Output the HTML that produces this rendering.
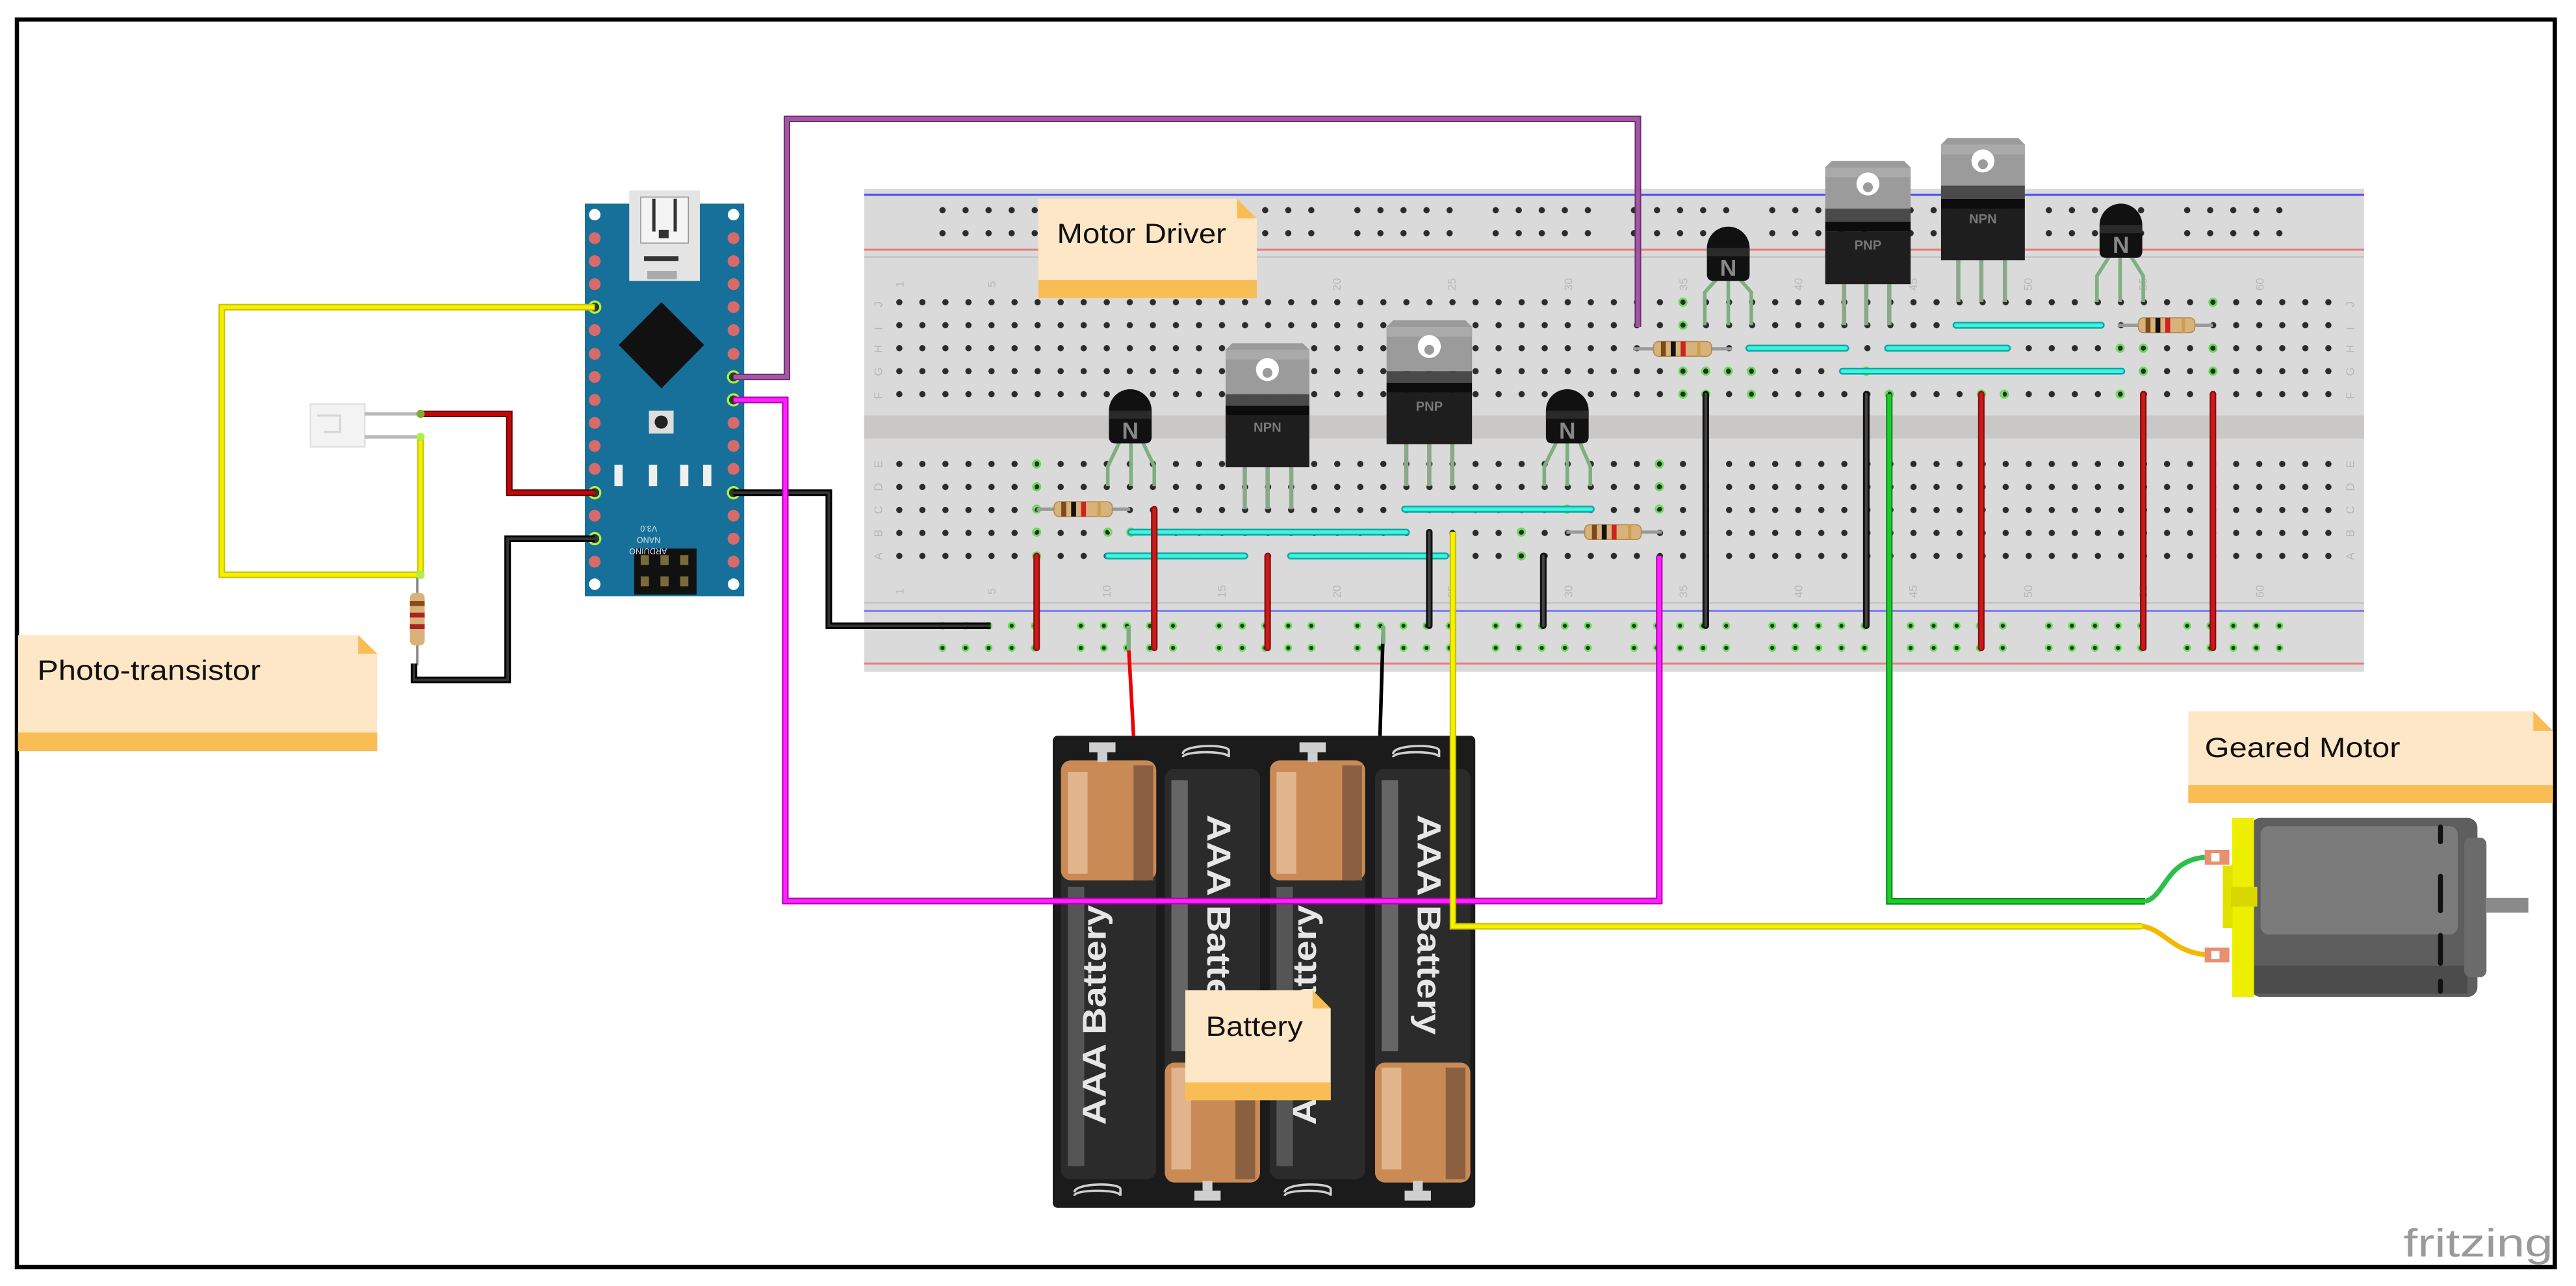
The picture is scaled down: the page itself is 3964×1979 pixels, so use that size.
<!DOCTYPE html>
<html><head><meta charset="utf-8"><style>
html,body{margin:0;padding:0;background:#fff;overflow:hidden}
svg{display:block}
text{font-family:"Liberation Sans",sans-serif}
</style></head><body>
<svg width="3964" height="1979" viewBox="0 0 1568 783" preserveAspectRatio="none" xmlns="http://www.w3.org/2000/svg">
<defs>
<pattern id="h" x="540.4" y="177" width="14.03" height="14" patternUnits="userSpaceOnUse"><circle cx="7.015" cy="7" r="1.9" fill="#2b2b2b"/></pattern>
<pattern id="h2" x="540.4" y="275.5" width="14.03" height="14" patternUnits="userSpaceOnUse"><circle cx="7.015" cy="7" r="1.9" fill="#2b2b2b"/></pattern>
<pattern id="r1" x="566.7" y="121" width="84.18" height="14" patternUnits="userSpaceOnUse">
<circle cx="7" cy="7" r="1.9" fill="#2b2b2b"/><circle cx="21.03" cy="7" r="1.9" fill="#2b2b2b"/><circle cx="35.06" cy="7" r="1.9" fill="#2b2b2b"/><circle cx="49.09" cy="7" r="1.9" fill="#2b2b2b"/><circle cx="63.12" cy="7" r="1.9" fill="#2b2b2b"/></pattern>
<pattern id="r2" x="566.7" y="374" width="84.18" height="13.5" patternUnits="userSpaceOnUse">
<g fill="#1f3a1f" stroke="#66dd55" stroke-width="1.1"><circle cx="7" cy="7" r="1.8"/><circle cx="21.03" cy="7" r="1.8"/><circle cx="35.06" cy="7" r="1.8"/><circle cx="49.09" cy="7" r="1.8"/><circle cx="63.12" cy="7" r="1.8"/></g></pattern>
</defs>

<!-- border -->
<rect x="10.3" y="11.9" width="1544.8" height="759.6" fill="none" stroke="#000" stroke-width="2.6"/>

<!-- breadboard -->
<rect x="526" y="115" width="913" height="294" fill="#dadada"/>
<rect x="526" y="253" width="913" height="14" fill="#cac8c6"/>
<line x1="526" y1="118.6" x2="1439" y2="118.6" stroke="#4a4af0" stroke-width="1.2"/>
<line x1="526" y1="152" x2="1439" y2="152" stroke="#ea8080" stroke-width="1.2"/>
<line x1="526" y1="156.5" x2="1439" y2="156.5" stroke="#c4c4c4" stroke-width="1"/>
<line x1="526" y1="367" x2="1439" y2="367" stroke="#c4c4c4" stroke-width="1"/>
<line x1="526" y1="372" x2="1439" y2="372" stroke="#7a7af0" stroke-width="1.2"/>
<line x1="526" y1="404" x2="1439" y2="404" stroke="#ea8080" stroke-width="1.2"/>
<rect x="566.7" y="121" width="836" height="28" fill="url(#r1)"/>
<rect x="566.7" y="374" width="836" height="27" fill="url(#r2)"/>
<rect x="540.4" y="177" width="883.9" height="70" fill="url(#h)"/>
<rect x="540.4" y="275.5" width="883.9" height="70" fill="url(#h2)"/>
<g font-size="7" fill="#b8b8b8">
<text transform="translate(550,175) rotate(-90)">1</text><text transform="translate(606,175) rotate(-90)">5</text><text transform="translate(676,177) rotate(-90)">10</text><text transform="translate(746,177) rotate(-90)">15</text><text transform="translate(816,177) rotate(-90)">20</text><text transform="translate(886,177) rotate(-90)">25</text><text transform="translate(957,177) rotate(-90)">30</text><text transform="translate(1027,177) rotate(-90)">35</text><text transform="translate(1097,177) rotate(-90)">40</text><text transform="translate(1167,177) rotate(-90)">45</text><text transform="translate(1237,177) rotate(-90)">50</text><text transform="translate(1307,177) rotate(-90)">55</text><text transform="translate(1378,177) rotate(-90)">60</text>
<text transform="translate(550,362) rotate(-90)">1</text><text transform="translate(606,362) rotate(-90)">5</text><text transform="translate(676,364) rotate(-90)">10</text><text transform="translate(746,364) rotate(-90)">15</text><text transform="translate(816,364) rotate(-90)">20</text><text transform="translate(886,364) rotate(-90)">25</text><text transform="translate(957,364) rotate(-90)">30</text><text transform="translate(1027,364) rotate(-90)">35</text><text transform="translate(1097,364) rotate(-90)">40</text><text transform="translate(1167,364) rotate(-90)">45</text><text transform="translate(1237,364) rotate(-90)">50</text><text transform="translate(1307,364) rotate(-90)">55</text><text transform="translate(1378,364) rotate(-90)">60</text>
<text transform="translate(537,187) rotate(-90)">J</text><text transform="translate(537,201) rotate(-90)">I</text><text transform="translate(537,215) rotate(-90)">H</text><text transform="translate(537,229) rotate(-90)">G</text><text transform="translate(537,243) rotate(-90)">F</text>
<text transform="translate(537,285) rotate(-90)">E</text><text transform="translate(537,299) rotate(-90)">D</text><text transform="translate(537,313) rotate(-90)">C</text><text transform="translate(537,327) rotate(-90)">B</text><text transform="translate(537,341) rotate(-90)">A</text>
<text transform="translate(1433,187) rotate(-90)">J</text><text transform="translate(1433,201) rotate(-90)">I</text><text transform="translate(1433,215) rotate(-90)">H</text><text transform="translate(1433,229) rotate(-90)">G</text><text transform="translate(1433,243) rotate(-90)">F</text>
<text transform="translate(1433,285) rotate(-90)">E</text><text transform="translate(1433,299) rotate(-90)">D</text><text transform="translate(1433,313) rotate(-90)">C</text><text transform="translate(1433,327) rotate(-90)">B</text><text transform="translate(1433,341) rotate(-90)">A</text>
</g>
<!-- green highlighted holes (connected columns) -->
<g fill="none" stroke="#66dd55" stroke-width="1.2">
<circle cx="631" cy="282.5" r="2.2"/><circle cx="631" cy="296.4" r="2.2"/><circle cx="631" cy="310" r="2.2"/><circle cx="631" cy="324" r="2.2"/><circle cx="631" cy="338.5" r="2.2"/>
<circle cx="674.3" cy="324" r="2.2"/><circle cx="688.4" cy="324" r="2.2"/><circle cx="702.6" cy="324" r="2.2"/>
<circle cx="1024.4" cy="184" r="2.2"/><circle cx="1024.4" cy="198" r="2.2"/><circle cx="1024.4" cy="226" r="2.2"/><circle cx="1024.4" cy="240" r="2.2"/>
<circle cx="1038.3" cy="226" r="2.2"/><circle cx="1038.3" cy="240" r="2.2"/><circle cx="1052" cy="226" r="2.2"/><circle cx="1066" cy="226" r="2.2"/><circle cx="1066" cy="240" r="2.2"/>
<circle cx="1136" cy="226" r="2.2"/><circle cx="1150" cy="240" r="2.2"/><circle cx="1206" cy="240" r="2.2"/><circle cx="1220" cy="240" r="2.2"/>
<circle cx="1290.5" cy="212" r="2.2"/><circle cx="1290.5" cy="240" r="2.2"/><circle cx="1304.6" cy="212" r="2.2"/><circle cx="1304.6" cy="226" r="2.2"/><circle cx="1347" cy="184" r="2.2"/><circle cx="1347" cy="212" r="2.2"/><circle cx="1347" cy="226" r="2.2"/>
<circle cx="1010" cy="282.5" r="2.2"/><circle cx="1010" cy="296.4" r="2.2"/><circle cx="1010" cy="310" r="2.2"/><circle cx="954" cy="310" r="2.2"/><circle cx="926" cy="324" r="2.2"/><circle cx="926" cy="338.5" r="2.2"/>
</g>

<!-- cyan jumpers -->
<g stroke-linecap="round">
<g stroke="#0aa6b0" stroke-width="4.2">
<line x1="688.4" y1="324" x2="856" y2="324"/><line x1="674.3" y1="338.5" x2="757.7" y2="338.5"/><line x1="785.6" y1="338.5" x2="880" y2="338.5"/><line x1="855" y1="310" x2="968.6" y2="310"/>
<line x1="1190.6" y1="198" x2="1279" y2="198"/><line x1="1064.5" y1="212" x2="1123.5" y2="212"/><line x1="1149" y1="212" x2="1221.9" y2="212"/><line x1="1121.5" y1="226" x2="1291.5" y2="226"/>
</g>
<g stroke="#3ff5d5" stroke-width="2.2">
<line x1="688.4" y1="324" x2="856" y2="324"/><line x1="674.3" y1="338.5" x2="757.7" y2="338.5"/><line x1="785.6" y1="338.5" x2="880" y2="338.5"/><line x1="855" y1="310" x2="968.6" y2="310"/>
<line x1="1190.6" y1="198" x2="1279" y2="198"/><line x1="1064.5" y1="212" x2="1123.5" y2="212"/><line x1="1149" y1="212" x2="1221.9" y2="212"/><line x1="1121.5" y1="226" x2="1291.5" y2="226"/>
</g>
<!-- vertical jumpers red -->
<g stroke="#8a0c0c" stroke-width="4"><line x1="631" y1="338.5" x2="631" y2="394.5"/><line x1="702.6" y1="310" x2="702.6" y2="394.5"/><line x1="771.6" y1="338.5" x2="771.6" y2="394.5"/><line x1="1206" y1="240" x2="1206" y2="394.5"/><line x1="1304.6" y1="240" x2="1304.6" y2="394.5"/><line x1="1347" y1="240" x2="1347" y2="394.5"/></g>
<g stroke="#cc1a1a" stroke-width="2.2"><line x1="631" y1="338.5" x2="631" y2="394.5"/><line x1="702.6" y1="310" x2="702.6" y2="394.5"/><line x1="771.6" y1="338.5" x2="771.6" y2="394.5"/><line x1="1206" y1="240" x2="1206" y2="394.5"/><line x1="1304.6" y1="240" x2="1304.6" y2="394.5"/><line x1="1347" y1="240" x2="1347" y2="394.5"/></g>
<!-- vertical jumpers black -->
<g stroke="#111" stroke-width="4"><line x1="870" y1="324" x2="870" y2="381"/><line x1="939.4" y1="338.5" x2="939.4" y2="381"/><line x1="1038.3" y1="240" x2="1038.3" y2="381"/><line x1="1136" y1="240" x2="1136" y2="381"/></g>
<g stroke="#444" stroke-width="1.6"><line x1="870" y1="324" x2="870" y2="381"/><line x1="939.4" y1="338.5" x2="939.4" y2="381"/><line x1="1038.3" y1="240" x2="1038.3" y2="381"/><line x1="1136" y1="240" x2="1136" y2="381"/></g>
</g>

<!-- resistors -->
<g>
<line x1="631" y1="310" x2="688" y2="310" stroke="#9a9a9a" stroke-width="2"/>
<rect x="641.6" y="305.5" width="35.4" height="9" rx="3" fill="#d9b27a" stroke="#b08850" stroke-width="0.6"/>
<rect x="646" y="305.5" width="3" height="9" fill="#7a4a1a"/><rect x="652" y="305.5" width="3" height="9" fill="#111"/><rect x="658" y="305.5" width="3" height="9" fill="#cc2222"/><rect x="668" y="305.5" width="2" height="9" fill="#c9a050"/>

<line x1="953.5" y1="324" x2="1011.5" y2="324" stroke="#9a9a9a" stroke-width="2"/>
<rect x="964.6" y="319.5" width="34.4" height="9" rx="3" fill="#d9b27a" stroke="#b08850" stroke-width="0.6"/>
<rect x="969" y="319.5" width="3" height="9" fill="#7a4a1a"/><rect x="975" y="319.5" width="3" height="9" fill="#111"/><rect x="981" y="319.5" width="3" height="9" fill="#cc2222"/><rect x="991" y="319.5" width="2" height="9" fill="#c9a050"/>

<line x1="994" y1="212.4" x2="1054.4" y2="212.4" stroke="#9a9a9a" stroke-width="2"/>
<rect x="1006.5" y="207.9" width="35.3" height="9" rx="3" fill="#d9b27a" stroke="#b08850" stroke-width="0.6"/>
<rect x="1011" y="207.9" width="3" height="9" fill="#7a4a1a"/><rect x="1017" y="207.9" width="3" height="9" fill="#111"/><rect x="1023" y="207.9" width="3" height="9" fill="#cc2222"/><rect x="1033" y="207.9" width="2" height="9" fill="#c9a050"/>

<line x1="1289" y1="198" x2="1347" y2="198" stroke="#9a9a9a" stroke-width="2"/>
<rect x="1301.6" y="193.5" width="34.4" height="9" rx="3" fill="#d9b27a" stroke="#b08850" stroke-width="0.6"/>
<rect x="1306" y="193.5" width="3" height="9" fill="#7a4a1a"/><rect x="1312" y="193.5" width="3" height="9" fill="#111"/><rect x="1318" y="193.5" width="3" height="9" fill="#cc2222"/><rect x="1328" y="193.5" width="2" height="9" fill="#c9a050"/>
</g>

<!-- TO-92 transistors -->
<g>
<!-- left N -->
<g stroke="#7fae7f" stroke-width="2.2" fill="none"><path d="M682,268 L674.3,284 L674.3,296"/><path d="M688.4,268 L688.4,296"/><path d="M695,268 L702.6,284 L702.6,296"/></g>
<path d="M675,250 a13,13 0 0 1 26,0 v16 q0,4 -4,4 h-18 q-4,0 -4,-4z" fill="#111"/>
<rect x="675" y="250" width="26" height="5" fill="#2a2a2a"/>
<text x="688" y="267" font-size="14" font-weight="bold" fill="#888" text-anchor="middle">N</text>
<!-- mid N -->
<g stroke="#7fae7f" stroke-width="2.2" fill="none"><path d="M948,268 L940,284 L940,296"/><path d="M954,268 L954,296"/><path d="M961,268 L968,284 L968,296"/></g>
<path d="M941,250 a13,13 0 0 1 26,0 v16 q0,4 -4,4 h-18 q-4,0 -4,-4z" fill="#111"/>
<rect x="941" y="250" width="26" height="5" fill="#2a2a2a"/>
<text x="954" y="267" font-size="14" font-weight="bold" fill="#888" text-anchor="middle">N</text>
<!-- right N1 -->
<g stroke="#7fae7f" stroke-width="2.2" fill="none"><path d="M1045,170 L1037.7,178 L1037.7,198"/><path d="M1052,170 L1052,198"/><path d="M1059,170 L1066,178 L1066,198"/></g>
<path d="M1039,151 a13,13 0 0 1 26,0 v16 q0,4 -4,4 h-18 q-4,0 -4,-4z" fill="#111"/>
<rect x="1039" y="151" width="26" height="5" fill="#2a2a2a"/>
<text x="1052" y="168" font-size="14" font-weight="bold" fill="#888" text-anchor="middle">N</text>
<!-- right N2 -->
<g stroke="#7fae7f" stroke-width="2.2" fill="none"><path d="M1284,156 L1276.4,168 L1276.4,184"/><path d="M1290.5,156 L1290.5,184"/><path d="M1297,156 L1304.6,168 L1304.6,184"/></g>
<path d="M1278,137 a13,13 0 0 1 26,0 v16 q0,4 -4,4 h-18 q-4,0 -4,-4z" fill="#111"/>
<rect x="1278" y="137" width="26" height="5" fill="#2a2a2a"/>
<text x="1291" y="154" font-size="14" font-weight="bold" fill="#888" text-anchor="middle">N</text>
</g>

<!-- TO-220 transistors -->
<g>
<!-- left NPN -->
<g stroke="#8aa88a" stroke-width="2.6"><line x1="757.7" y1="284" x2="757.7" y2="310"/><line x1="771.6" y1="284" x2="771.6" y2="310"/><line x1="786" y1="284" x2="786" y2="310"/></g>
<path d="M746,213 l4,-4 h43 l4,4 v27 h-51z" fill="#9b9b9b"/><rect x="746" y="213" width="51" height="6" fill="#aaa"/>
<circle cx="771.5" cy="225" r="7" fill="#fff"/><circle cx="771.5" cy="227" r="3" fill="#9b9b9b"/>
<rect x="746" y="240" width="51" height="7" fill="#4a4a4a"/><rect x="746" y="247" width="51" height="6" fill="#0c0c0c"/><rect x="746" y="253" width="51" height="31.5" fill="#1e1e1e"/>
<text x="771.5" y="263" font-size="8" font-weight="bold" fill="#777" text-anchor="middle">NPN</text>
<!-- left PNP -->
<g stroke="#8aa88a" stroke-width="2.6"><line x1="856" y1="270" x2="856" y2="296"/><line x1="870" y1="270" x2="870" y2="296"/><line x1="884" y1="270" x2="884" y2="296"/></g>
<path d="M844,199 l4,-4 h44 l4,4 v27 h-52z" fill="#9b9b9b"/><rect x="844" y="199" width="52" height="6" fill="#aaa"/>
<circle cx="870" cy="211" r="7" fill="#fff"/><circle cx="870" cy="213" r="3" fill="#9b9b9b"/>
<rect x="844" y="226" width="52" height="7" fill="#4a4a4a"/><rect x="844" y="233" width="52" height="6" fill="#0c0c0c"/><rect x="844" y="239" width="52" height="31.4" fill="#1e1e1e"/>
<text x="870" y="250" font-size="8" font-weight="bold" fill="#777" text-anchor="middle">PNP</text>
<!-- right PNP -->
<g stroke="#8aa88a" stroke-width="2.6"><line x1="1122.5" y1="173" x2="1122.5" y2="198"/><line x1="1136" y1="173" x2="1136" y2="198"/><line x1="1150" y1="173" x2="1150" y2="198"/></g>
<path d="M1111,102 l4,-4 h44 l4,4 v27 h-52z" fill="#9b9b9b"/><rect x="1111" y="102" width="52" height="6" fill="#aaa"/>
<circle cx="1137" cy="112" r="7" fill="#fff"/><circle cx="1137" cy="114" r="3" fill="#9b9b9b"/>
<rect x="1111" y="127" width="52" height="8" fill="#4a4a4a"/><rect x="1111" y="135" width="52" height="6" fill="#0c0c0c"/><rect x="1111" y="141" width="52" height="32" fill="#1e1e1e"/>
<text x="1137" y="152" font-size="8" font-weight="bold" fill="#777" text-anchor="middle">PNP</text>
<!-- right NPN -->
<g stroke="#8aa88a" stroke-width="2.6"><line x1="1192" y1="158" x2="1192" y2="184"/><line x1="1206" y1="158" x2="1206" y2="184"/><line x1="1220.4" y1="158" x2="1220.4" y2="184"/></g>
<path d="M1181.5,88 l4,-4 h43 l4,4 v27 h-51z" fill="#9b9b9b"/><rect x="1181.5" y="88" width="51" height="6" fill="#aaa"/>
<circle cx="1207" cy="98" r="7" fill="#fff"/><circle cx="1207" cy="100" r="3" fill="#9b9b9b"/>
<rect x="1181.5" y="113" width="51" height="8" fill="#4a4a4a"/><rect x="1181.5" y="121" width="51" height="6" fill="#0c0c0c"/><rect x="1181.5" y="127" width="51" height="31.4" fill="#1e1e1e"/>
<text x="1207" y="136" font-size="8" font-weight="bold" fill="#777" text-anchor="middle">NPN</text>
</g>

<!-- Arduino Nano -->
<g>
<rect x="356" y="124" width="97" height="239" fill="#17709a"/>
<rect x="383" y="116" width="43" height="55" fill="#e4e4e4"/>
<rect x="390" y="120" width="29" height="28" fill="#f4f4f4" stroke="#999" stroke-width="0.6"/>
<rect x="397" y="121" width="2" height="20" fill="#333"/><rect x="410" y="121" width="2" height="20" fill="#333"/><rect x="401" y="140" width="6" height="5" fill="#333"/>
<rect x="392" y="156" width="21" height="3" fill="#333"/>
<rect x="394" y="165" width="18" height="5" fill="#aaa"/>
<path d="M402.6,184 L428.6,210 L402.6,236.5 L376.6,210z" fill="#111"/>
<circle cx="362" cy="130.7" r="3.5" fill="#fff"/><circle cx="446.5" cy="130.7" r="3.5" fill="#fff"/><circle cx="362" cy="355.7" r="3.5" fill="#fff"/><circle cx="446.5" cy="355.7" r="3.5" fill="#fff"/>
<g fill="#d86a6a">
<circle cx="362" cy="145" r="3.6"/><circle cx="362" cy="159" r="3.6"/><circle cx="362" cy="173" r="3.6"/><circle cx="362" cy="201" r="3.6"/><circle cx="362" cy="215.5" r="3.6"/><circle cx="362" cy="229.5" r="3.6"/><circle cx="362" cy="243.5" r="3.6"/><circle cx="362" cy="257.5" r="3.6"/><circle cx="362" cy="271.5" r="3.6"/><circle cx="362" cy="285.5" r="3.6"/><circle cx="362" cy="314" r="3.6"/><circle cx="362" cy="342" r="3.6"/>
<circle cx="446.5" cy="145" r="3.6"/><circle cx="446.5" cy="159" r="3.6"/><circle cx="446.5" cy="173" r="3.6"/><circle cx="446.5" cy="187" r="3.6"/><circle cx="446.5" cy="201" r="3.6"/><circle cx="446.5" cy="215.5" r="3.6"/><circle cx="446.5" cy="257.5" r="3.6"/><circle cx="446.5" cy="271.5" r="3.6"/><circle cx="446.5" cy="285.5" r="3.6"/><circle cx="446.5" cy="314" r="3.6"/><circle cx="446.5" cy="328" r="3.6"/><circle cx="446.5" cy="342" r="3.6"/>
</g>
<g fill="#2b3a2b" stroke="#aef048" stroke-width="1.3">
<circle cx="362" cy="187" r="3.4"/><circle cx="362" cy="300" r="3.4"/><circle cx="362" cy="328" r="3.4"/><circle cx="446.5" cy="229.5" r="3.4"/><circle cx="446.5" cy="243.5" r="3.4"/><circle cx="446.5" cy="300" r="3.4"/>
</g>
<rect x="395" y="250" width="15" height="14" fill="#ddd"/><circle cx="402.5" cy="257" r="4" fill="#222"/>
<g fill="#f0f0f0"><rect x="374" y="283" width="5" height="13"/><rect x="395" y="283" width="5" height="13"/><rect x="414" y="283" width="5" height="13"/><rect x="428" y="283" width="5" height="13"/></g>
<rect x="386" y="334" width="38" height="28" fill="#111"/>
<g fill="#7a6a3a"><rect x="390" y="338" width="5" height="6"/><rect x="402" y="338" width="5" height="6"/><rect x="414" y="338" width="5" height="6"/><rect x="390" y="351" width="5" height="6"/><rect x="402" y="351" width="5" height="6"/><rect x="414" y="351" width="5" height="6"/></g>
<g font-size="5" fill="#cfe3ee"><text transform="translate(400,320) rotate(180)">V3.0</text><text transform="translate(402,327) rotate(180)">NANO</text><text transform="translate(406,334) rotate(180)">ARDUINO</text></g>
</g>

<!-- photo-transistor -->
<rect x="189" y="246" width="33" height="26" fill="#f3f3f3" stroke="#e2e2e2"/>
<path d="M193,253 h14 v10 h-10" fill="none" stroke="#d8d8d8" stroke-width="1.4"/>
<line x1="222" y1="252" x2="256" y2="252" stroke="#b8b8b8" stroke-width="2"/>
<line x1="222" y1="266" x2="256" y2="266" stroke="#b8b8b8" stroke-width="2"/>
<!-- resistor near photo -->
<line x1="254" y1="350" x2="254" y2="405" stroke="#888" stroke-width="1.5"/>
<rect x="249.5" y="361" width="9" height="32" rx="3" fill="#d9b27a"/>
<rect x="249.5" y="366" width="9" height="3" fill="#8a4a1a"/><rect x="249.5" y="373" width="9" height="3" fill="#aa2222"/><rect x="249.5" y="380" width="9" height="3" fill="#aa2222"/>

<!-- wires left -->
<g fill="none" stroke-linejoin="miter">
<path d="M362,187 H135 V350 H256 V266" stroke="#c8c000" stroke-width="4"/>
<path d="M362,187 H135 V350 H256 V266" stroke="#f5f000" stroke-width="2.4"/>
<path d="M362,300 H310 V252 H256" stroke="#6a0000" stroke-width="4"/>
<path d="M362,300 H310 V252 H256" stroke="#bb0a0a" stroke-width="2.4"/>
<path d="M362,328 H309 V414 H252 V404" stroke="#000" stroke-width="4"/>
<path d="M362,328 H309 V414 H252 V404" stroke="#333" stroke-width="1.6"/>
<path d="M446.5,300 H504.5 V381 H603" stroke="#000" stroke-width="4"/>
<path d="M446.5,300 H504.5 V381 H603" stroke="#333" stroke-width="1.6"/>
<path d="M446.5,229.5 H479 V72.4 H997 V199" stroke="#6d2f6d" stroke-width="4"/>
<path d="M446.5,229.5 H479 V72.4 H997 V199" stroke="#a456a4" stroke-width="2.4"/>
</g>
<circle cx="256" cy="266" r="2.5" fill="#aef048"/><circle cx="256" cy="350" r="2.5" fill="#aef048"/><circle cx="256" cy="252" r="2.5" fill="#8a3"/>

<!-- battery pack -->
<g>
<rect x="640.8" y="448" width="257.2" height="287.4" rx="3" fill="#1b1b1b"/>
<!-- cell 1 -->
<rect x="645.8" y="463" width="58" height="255" rx="6" fill="#2b2b2b"/>
<rect x="645.8" y="463" width="58" height="73" rx="6" fill="#c98a55"/><rect x="650" y="470" width="12" height="62" fill="#e0b48c"/><rect x="690" y="466" width="12" height="70" fill="#8a6040"/>
<rect x="650" y="540" width="10" height="170" fill="#555"/>
<!-- cell 2 -->
<rect x="709" y="468" width="58" height="252" rx="6" fill="#2b2b2b"/>
<rect x="709" y="647" width="58" height="73" rx="6" fill="#c98a55"/><rect x="713" y="650" width="12" height="62" fill="#e0b48c"/><rect x="752" y="650" width="12" height="68" fill="#8a6040"/>
<rect x="713" y="475" width="10" height="165" fill="#666"/>
<!-- cell 3 -->
<rect x="773" y="463" width="58" height="255" rx="6" fill="#2b2b2b"/>
<rect x="773" y="463" width="58" height="73" rx="6" fill="#c98a55"/><rect x="777" y="470" width="12" height="62" fill="#e0b48c"/><rect x="817" y="466" width="12" height="70" fill="#8a6040"/>
<rect x="777" y="540" width="10" height="170" fill="#555"/>
<!-- cell 4 -->
<rect x="837" y="468" width="58" height="252" rx="6" fill="#2b2b2b"/>
<rect x="837" y="647" width="58" height="73" rx="6" fill="#c98a55"/><rect x="841" y="650" width="12" height="62" fill="#e0b48c"/><rect x="880" y="650" width="12" height="68" fill="#8a6040"/>
<rect x="841" y="475" width="10" height="165" fill="#666"/>
<!-- terminals & springs -->
<g fill="#cfcfcf"><rect x="663" y="452" width="16" height="6"/><rect x="668" y="458" width="6" height="6"/><rect x="791" y="452" width="16" height="6"/><rect x="796" y="458" width="6" height="6"/>
<rect x="727" y="725" width="16" height="6"/><rect x="732" y="719" width="6" height="6"/><rect x="855" y="725" width="16" height="6"/><rect x="860" y="719" width="6" height="6"/></g>
<g fill="none" stroke="#cfcfcf" stroke-width="1.4"><path d="M720,459 c0,-6 28,-6 28,-2 v4 c0,-4 -28,-4 -28,0"/><path d="M848,459 c0,-6 28,-6 28,-2 v4 c0,-4 -28,-4 -28,0"/><path d="M654,726 c0,-6 28,-6 28,-2 v4 c0,-4 -28,-4 -28,0"/><path d="M782,726 c0,-6 28,-6 28,-2 v4 c0,-4 -28,-4 -28,0"/></g>
<g font-size="20" font-weight="bold" fill="#e6e6e6">
<text transform="translate(673,685) rotate(-90)" textLength="134" lengthAdjust="spacingAndGlyphs">AAA Battery</text>
<text transform="translate(735,496) rotate(90)" textLength="134" lengthAdjust="spacingAndGlyphs">AAA Battery</text>
<text transform="translate(801,685) rotate(-90)" textLength="134" lengthAdjust="spacingAndGlyphs">AAA Battery</text>
<text transform="translate(863,496) rotate(90)" textLength="134" lengthAdjust="spacingAndGlyphs">AAA Battery</text>
</g>
</g>

<!-- battery wires -->
<line x1="687" y1="394" x2="690" y2="448" stroke="#ee0000" stroke-width="2.2"/>
<line x1="842" y1="381" x2="840" y2="448" stroke="#000" stroke-width="2.2"/>
<line x1="842" y1="381" x2="842" y2="392" stroke="#7fae7f" stroke-width="2.6"/>
<line x1="687" y1="381" x2="687" y2="396" stroke="#7fae7f" stroke-width="2.6"/>

<!-- long wires -->
<g fill="none">
<path d="M446.5,243.5 H478 V548.6 H1010 V338.5" stroke="#b000b0" stroke-width="4"/>
<path d="M446.5,243.5 H478 V548.6 H1010 V338.5" stroke="#ff22ff" stroke-width="2.4"/>
<path d="M884.4,324 V564 H1304" stroke="#c8c000" stroke-width="4"/>
<path d="M884.4,324 V564 H1304" stroke="#f5f000" stroke-width="2.4"/>
<path d="M1304,564 C1318,566 1322,580 1344.5,581.5" stroke="#f5b800" stroke-width="3"/>
<path d="M1150,240 V548.8 H1305.7" stroke="#0a8a1a" stroke-width="4"/>
<path d="M1150,240 V548.8 H1305.7" stroke="#1ccc2c" stroke-width="2.4"/>
<path d="M1305.7,548.8 C1318,546 1318,524 1342,522" stroke="#2cc04a" stroke-width="3"/>
</g>

<!-- motor -->
<g>
<rect x="1342" y="517.5" width="15" height="9" fill="#e89070"/><rect x="1346" y="519.5" width="5" height="5" fill="#fff"/>
<rect x="1342" y="577" width="15" height="9" fill="#e89070"/><rect x="1346" y="579" width="5" height="5" fill="#fff"/>
<rect x="1370" y="498" width="138" height="109" rx="6" fill="#5e5e5e"/>
<rect x="1376" y="503" width="120" height="66" rx="5" fill="#7b7b7b"/>
<rect x="1372" y="588" width="130" height="17" fill="#4c4c4c"/>
<rect x="1500" y="510" width="13.5" height="85" rx="4" fill="#6b6b6b"/>
<g fill="#111"><rect x="1484" y="502" width="3" height="12" rx="1.5"/><rect x="1484" y="532" width="3" height="24" rx="1.5"/><rect x="1484" y="568" width="3" height="20" rx="1.5"/><rect x="1484" y="596" width="3" height="9" rx="1.5"/></g>
<rect x="1513" y="546.7" width="26" height="9" fill="#8a8a8a"/>
<rect x="1358.6" y="498" width="13.4" height="109" fill="#eeee00"/>
<rect x="1353" y="527" width="6" height="38" fill="#e2e200"/><rect x="1358" y="540" width="16" height="12" fill="#d8d800"/>
</g>

<!-- notes -->
<g>
<path d="M632,121 H753 L765,133 V181.6 H632z" fill="#fde7c6"/>
<path d="M753,121 L765,133 H753z" fill="#f9bd55"/>
<rect x="632" y="170.5" width="133" height="11" fill="#f9bd55"/>
<text x="643.4" y="148" font-size="17" fill="#111" textLength="103" lengthAdjust="spacingAndGlyphs">Motor Driver</text>

<path d="M11,386.7 H218 L229.6,398 V457.4 H11z" fill="#fde7c6"/>
<path d="M218,386.7 L229.6,398 H218z" fill="#f9bd55"/>
<rect x="11" y="446" width="218.6" height="11.4" fill="#f9bd55"/>
<text x="22.7" y="413.8" font-size="17" fill="#111" textLength="136" lengthAdjust="spacingAndGlyphs">Photo-transistor</text>

<path d="M721.5,603 H799 L810,614 V669.9 H721.5z" fill="#fde7c6"/>
<path d="M799,603 L810,614 H799z" fill="#f9bd55"/>
<rect x="721.5" y="659" width="88.5" height="10.9" fill="#f9bd55"/>
<text x="734" y="630.7" font-size="17" fill="#111" textLength="59" lengthAdjust="spacingAndGlyphs">Battery</text>

<path d="M1332,433 H1542 L1554,445 V489 H1332z" fill="#fde7c6"/>
<path d="M1542,433 L1554,445 H1542z" fill="#f9bd55"/>
<rect x="1332" y="478" width="222" height="11" fill="#f9bd55"/>
<text x="1342" y="461" font-size="17" fill="#111" textLength="119" lengthAdjust="spacingAndGlyphs">Geared Motor</text>
</g>

<text x="1463" y="765" font-size="24" fill="#9a9a9a" textLength="91" lengthAdjust="spacingAndGlyphs">fritzing</text>
</svg>
</body></html>
